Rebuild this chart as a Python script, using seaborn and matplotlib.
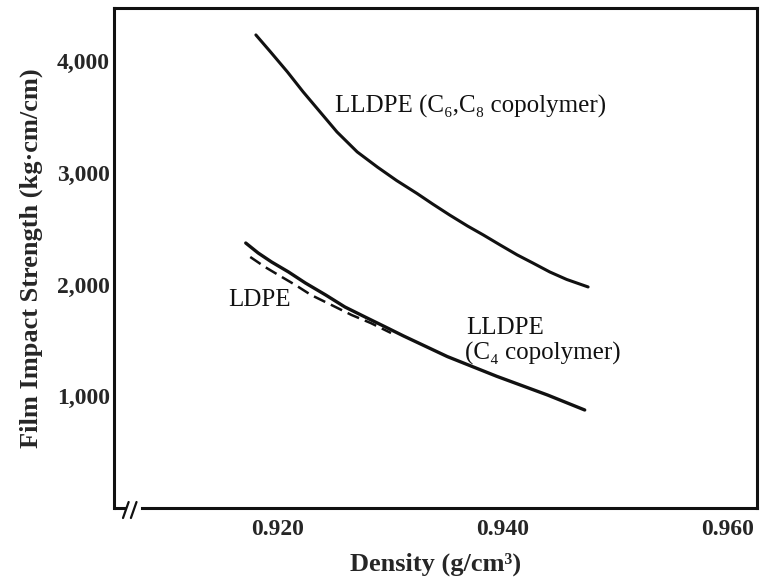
import matplotlib
matplotlib.use("Agg")
import matplotlib.pyplot as plt
import seaborn as sns

# LLDPE (C6, C8 copolymer) - upper curve
c6c8_density = [0.9181, 0.9194, 0.9209, 0.9223, 0.9238, 0.9253, 0.9271, 0.9289,
                0.9306, 0.9324, 0.9338, 0.9353, 0.9369, 0.9383, 0.9398, 0.9413,
                0.9427, 0.9442, 0.9457, 0.9476]
c6c8_strength = [4233, 4081, 3902, 3723, 3544, 3365, 3186, 3050,
                 2930, 2815, 2720, 2622, 2523, 2443, 2353, 2265,
                 2192, 2112, 2045, 1978]

# LLDPE (C4 copolymer) - lower solid curve
c4_density = [0.9172, 0.9183, 0.9195, 0.9210, 0.9225, 0.9243, 0.9260, 0.9278,
              0.9296, 0.9312, 0.9351, 0.9395, 0.9440, 0.9473]
c4_strength = [2371, 2282, 2201, 2112, 2013, 1906, 1799, 1709,
               1620, 1540, 1355, 1178, 1011, 877]

# LDPE - dashed curve
ldpe_density = [0.9176, 0.9189, 0.9201, 0.9216, 0.9230, 0.9248, 0.9266, 0.9283, 0.9301]
ldpe_strength = [2246, 2157, 2085, 1996, 1906, 1817, 1727, 1655, 1566]

x_ticks = [0.920, 0.940, 0.960]
x_tick_labels = ["0.920", "0.940", "0.960"]
y_ticks = [1000, 2000, 3000, 4000]
y_tick_labels = ["1,000", "2,000", "3,000", "4,000"]

sns.set_theme(style="white")
plt.rcParams["font.family"] = ["Liberation Serif", "DejaVu Serif"]

fig = plt.figure(figsize=(7.63, 5.84), dpi=100)
ax = fig.add_axes([114 / 763, 76 / 584, 643 / 763, 500 / 584])

ink = "#111111"
sns.lineplot(x=c6c8_density, y=c6c8_strength, color=ink, linewidth=2.2, ax=ax)
sns.lineplot(x=c4_density, y=c4_strength, color=ink, linewidth=2.4, ax=ax)
sns.lineplot(x=ldpe_density, y=ldpe_strength, color=ink, linewidth=1.8,
             linestyle=(0, (5, 2.5)), ax=ax)

xmin, xmax = 0.9055, 0.9626
ax.set_xlim(xmin, xmax)
ax.set_ylim(0, 4474)

ax.set_xticks(x_ticks)
ax.set_xticklabels(x_tick_labels, fontsize=17, fontweight="bold")
ax.set_yticks(y_ticks)
ax.set_yticklabels(y_tick_labels, fontsize=17, fontweight="bold")
ax.tick_params(axis="both", direction="in", length=8, width=2.2, color=ink)
ax.tick_params(axis="x", pad=8)
ax.tick_params(axis="y", pad=3)

for side in ["left", "right", "top", "bottom"]:
    ax.spines[side].set_linewidth(2.2)
    ax.spines[side].set_color(ink)

# axis break on the x axis
ax.spines["bottom"].set_bounds(0.9080, xmax)
trans = ax.get_xaxis_transform()
ax.plot([xmin, 0.9066], [0, 0], transform=trans, color=ink, lw=2.2,
        clip_on=False, solid_capstyle="butt")
for bx in (0.9068, 0.9075):
    ax.plot([bx, bx - 0.0005], [0.012, -0.020], transform=trans, color=ink,
            lw=1.6, clip_on=False)

ax.set_xlabel("Density (g/cm³)", fontsize=19, fontweight="bold", labelpad=9)
ax.set_ylabel("Film Impact Strength (kg·cm/cm)", fontsize=19,
              fontweight="bold", labelpad=10)

ax.text(0.9251, 3597, "LLDPE (C₆,C₈ copolymer)", fontsize=18,
        ha="left", va="center", color=ink)
ax.text(0.9156, 1861, "LDPE", fontsize=18, ha="left", va="center", color=ink)
ax.text(0.9368, 1611, "LLDPE", fontsize=18, ha="left", va="center", color=ink)
ax.text(0.9367, 1387, "(C₄ copolymer)", fontsize=18, ha="left", va="center",
        color=ink)

fig.savefig("out.png", dpi=100)
